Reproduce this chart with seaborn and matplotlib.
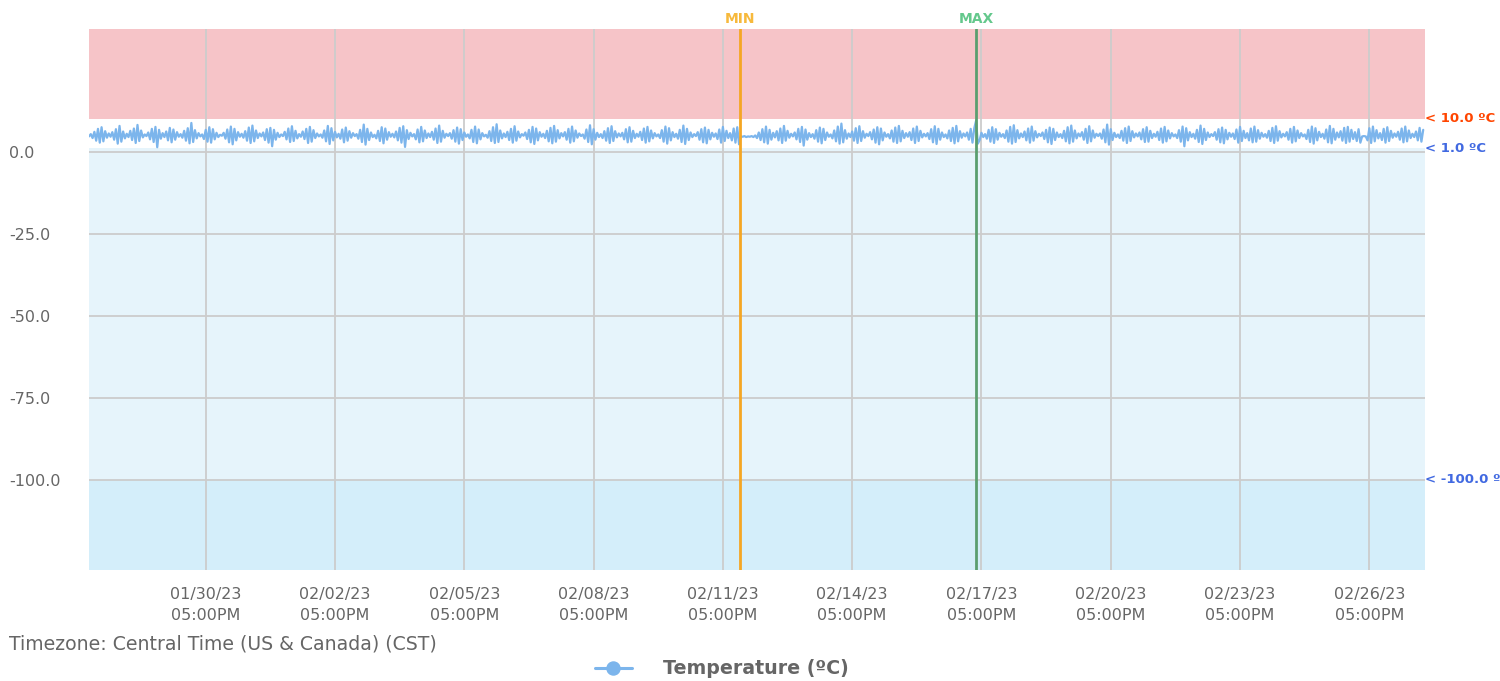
import matplotlib
matplotlib.use("Agg")
import matplotlib.pyplot as plt
import matplotlib.dates as mdates
import matplotlib.transforms as mtrans
from matplotlib.lines import Line2D
import numpy as np
import pandas as pd
import seaborn as sns

# ---------------- data ----------------
START = "2023-01-28 00:00"
END = "2023-02-28 00:00"
MIN_TIME = "2023-02-12 02:30"
MAX_TIME = "2023-02-17 14:00"

# hourly temperature readings (ºC), one row per day
TEMP = [
    4.6,5.3,4.1,6.0,3.3,6.9,2.7,7.4,3.1,6.2,4.2,5.5,4.5,5.9,3.6,6.8,2.4,7.8,3.0,6.1,4.0,5.4,4.4,6.3,
    3.5,7.0,2.6,8.1,3.2,6.4,4.3,5.2,4.7,5.8,3.7,6.9,2.9,7.5,1.3,6.6,3.9,5.6,4.4,6.1,3.4,7.2,2.8,6.7,
    3.6,5.9,4.5,5.3,4.2,6.3,3.3,7.1,2.5,8.7,2.9,6.5,4.0,5.6,4.6,5.2,3.8,6.6,3.0,7.4,2.7,6.8,3.7,5.7,
    4.4,5.1,4.8,5.7,3.9,6.7,2.8,7.6,2.2,6.9,3.4,5.9,4.5,5.4,4.2,6.2,3.3,7.3,2.6,7.9,3.1,6.4,4.1,5.5,
    4.6,5.8,3.5,6.8,2.7,7.2,1.6,6.6,3.6,5.7,4.4,5.2,4.7,6.0,3.7,7.0,2.9,7.7,3.2,6.3,4.0,5.3,4.5,6.1,
    3.8,6.9,2.6,7.5,3.0,6.5,4.1,5.5,4.6,5.2,4.2,6.4,3.1,7.8,2.3,7.1,3.4,6.0,4.3,5.4,3.9,6.7,2.8,7.3,
    3.3,6.2,4.2,5.6,4.7,5.3,3.9,6.6,2.9,8.2,2.1,6.9,3.5,5.8,4.4,5.1,4.0,6.3,3.2,7.4,2.5,7.0,3.6,5.9,
    4.5,5.4,4.3,6.1,3.4,7.2,2.7,7.7,1.4,6.5,3.8,5.7,4.6,5.3,3.7,6.7,2.8,7.5,3.1,6.4,4.1,5.5,4.4,6.0,
    3.6,7.0,2.6,7.9,3.0,6.3,4.2,5.4,4.7,5.6,3.9,6.5,3.0,7.3,2.4,6.8,3.5,5.8,4.5,5.2,4.0,6.6,2.9,7.6,
    2.5,6.7,3.7,5.6,4.6,5.1,4.2,6.2,3.2,7.4,2.6,8.3,2.9,6.4,4.0,5.5,4.4,6.0,3.5,6.9,2.7,7.7,3.3,6.1,
    4.3,5.3,4.8,5.8,3.8,6.6,2.8,7.5,2.3,7.0,3.4,5.9,4.5,5.4,4.1,6.3,3.1,7.2,2.5,7.8,3.0,6.5,4.0,5.6,
    4.6,5.9,3.6,6.9,2.7,7.6,3.1,6.4,4.2,5.5,4.7,5.2,3.9,6.7,2.9,8.0,2.2,6.8,3.6,5.7,4.4,5.3,4.1,6.2,
    3.3,7.1,2.6,7.7,3.2,6.2,4.3,5.5,4.6,5.7,3.7,6.8,2.8,7.4,3.0,6.3,4.1,5.4,4.5,6.0,3.5,7.0,2.7,7.5,
    3.1,6.4,4.0,5.6,4.6,5.2,4.1,6.5,3.0,7.6,2.4,7.1,3.4,5.9,4.4,5.4,3.9,6.6,2.9,7.9,2.3,6.9,3.5,5.8,
    4.4,5.3,4.7,5.9,3.6,6.8,2.8,7.3,2.5,6.6,3.7,5.7,4.5,5.5,3.8,6.7,2.7,7.5,3.2,6.3,4.1,5.6,3.4,7.0,
    2.7,7.4,2.2,4.6,4.5,4.7,4.4,4.6,4.5,4.7,4.4,4.9,4.1,5.8,3.5,6.8,2.8,7.6,2.4,6.6,3.6,5.7,4.3,6.2,
    3.4,7.0,2.6,7.8,3.3,6.3,4.2,5.4,4.6,5.8,3.7,6.9,2.9,7.5,1.8,6.7,3.6,5.6,4.4,5.3,3.9,6.5,3.0,7.3,
    2.5,6.9,3.5,5.8,4.5,5.2,4.0,6.4,3.1,7.6,2.4,8.5,2.8,6.5,3.9,5.5,4.4,6.1,3.3,7.1,2.6,7.7,3.2,6.2,
    4.2,5.4,4.7,5.9,3.7,6.7,2.7,7.4,2.2,7.0,3.4,5.8,4.5,5.3,4.0,6.4,3.0,7.3,2.6,7.8,3.1,6.3,4.1,5.6,
    4.5,5.9,3.5,7.0,2.6,7.6,3.2,6.3,4.3,5.4,4.6,5.6,3.8,6.8,2.8,7.7,2.3,6.9,3.6,5.8,4.4,5.2,4.0,6.4,
    3.2,7.2,2.5,7.8,3.1,6.2,4.2,5.5,4.6,5.8,3.6,6.9,2.7,7.1,9.4,2.4,3.5,5.7,4.4,5.3,3.9,6.6,3.0,7.4,
    2.6,6.8,3.6,5.7,4.5,5.3,4.1,6.4,3.0,7.5,2.4,8.0,2.9,6.5,4.0,5.5,4.4,6.1,3.4,7.0,2.7,7.6,3.3,6.2,
    4.3,5.4,4.7,5.8,3.8,6.6,2.8,7.3,2.3,6.9,3.5,5.8,4.4,5.3,4.1,6.3,3.1,7.4,2.5,7.9,3.0,6.4,4.0,5.5,
    4.6,5.9,3.6,6.9,2.6,7.7,3.1,6.4,4.2,5.4,4.7,5.5,3.9,6.7,2.8,8.2,2.1,6.8,3.5,5.7,4.4,5.2,4.1,6.3,
    3.3,7.1,2.6,7.6,3.2,6.2,4.3,5.5,4.6,5.8,3.7,6.8,2.9,7.4,3.0,6.3,4.1,5.4,4.5,6.0,3.5,7.0,2.7,7.5,
    3.1,6.4,4.0,5.6,4.6,5.2,4.1,6.5,3.0,7.6,1.6,7.1,3.4,5.9,4.4,5.4,3.9,6.6,2.9,7.9,2.3,6.9,3.5,5.8,
    4.4,5.3,4.7,5.9,3.6,6.8,2.8,7.3,2.5,6.6,3.7,5.7,4.5,5.5,3.8,6.7,2.7,7.5,3.2,6.3,4.1,5.6,3.4,7.0,
    2.8,7.6,3.0,6.5,3.9,5.7,4.5,5.3,4.2,6.3,3.2,7.2,2.6,7.7,3.3,6.2,4.3,5.4,4.6,5.9,3.6,6.9,2.7,7.5,
    3.1,6.4,4.1,5.6,4.6,5.2,3.8,6.6,2.9,7.6,2.4,7.1,3.4,6.0,4.4,5.4,3.9,6.7,2.8,7.8,2.5,6.9,3.6,5.8,
    4.3,6.2,3.3,7.2,2.6,7.5,3.0,6.6,3.8,5.9,3.2,6.8,2.7,4.6,4.7,4.6,3.4,7.1,2.6,7.6,3.1,6.5,4.0,5.6,
    3.5,6.9,2.7,7.4,3.2,6.3,4.2,5.5,4.5,6.0,3.6,7.0,2.8,7.6,3.1,6.4,4.1,5.4,4.4,6.1,3.4,7.2,3.0,6.6,
]

Y_TICKS = [0.0, -25.0, -50.0, -75.0, -100.0]
Y_LIMITS = [-127.4, 37.3]
X_TICK_START = "2023-01-30 17:00"
X_TICK_COUNT = 10
HIGH_LIMIT = 10.0
LOW_LIMIT = 1.0
FLOOR_LIMIT = -100.0
SERIES_NAME = "Temperature (ºC)"
TZ_TEXT = "Timezone: Central Time (US & Canada) (CST)"

# ---------------- style ----------------
sns.set_style("white")
plt.rcParams["font.family"] = ["DejaVu Sans"]
GREY = "#666666"
LINE_BLUE = "#7cb5ec"

df = pd.DataFrame({
    "time": pd.date_range(START, periods=len(TEMP), freq="h"),
    "temp": TEMP,
})

W, H = 1500, 681
fig = plt.figure(figsize=(W / 100, H / 100), dpi=100)
ax = fig.add_axes([89 / W, 1 - 570 / H, (1425 - 89) / W, (570 - 29) / H])

# bands
ax.axhspan(HIGH_LIMIT, Y_LIMITS[1], color="#f6c4c8", zorder=0, lw=0)
ax.axhspan(FLOOR_LIMIT, LOW_LIMIT, color="#e6f4fb", zorder=0, lw=0)
ax.axhspan(Y_LIMITS[0], FLOOR_LIMIT, color="#d4eefa", zorder=0, lw=0)

sns.lineplot(data=df, x="time", y="temp", ax=ax, color=LINE_BLUE,
             lw=1.6, legend=False, zorder=2)

x0 = mdates.date2num(pd.Timestamp(START).to_pydatetime())
x1 = mdates.date2num(pd.Timestamp(END).to_pydatetime())
ax.set_xlim(x0, x1)
ax.set_ylim(*Y_LIMITS)

xt = pd.date_range(X_TICK_START, periods=X_TICK_COUNT, freq="3D")
ax.set_xticks(mdates.date2num(xt.to_pydatetime()))
ax.xaxis.set_major_formatter(mdates.DateFormatter("%m/%d/%y\n%I:%M%p"))
ax.set_yticks(Y_TICKS)
ax.set_yticklabels([f"{v:.1f}" for v in Y_TICKS])

ax.set_axisbelow(True)
ax.grid(True, axis="both", color="#cccccc", lw=1.3)
for s in ax.spines.values():
    s.set_visible(False)
ax.tick_params(axis="both", length=0, colors=GREY, labelsize=11.5)
ax.tick_params(axis="x", pad=12)
ax.tick_params(axis="y", pad=57.6)
for lab in ax.get_yticklabels():
    lab.set_horizontalalignment("left")
for lab in ax.get_xticklabels():
    lab.set_linespacing(1.5)
ax.set_xlabel("")
ax.set_ylabel("")

# MIN / MAX markers
for t, lc, tc, name in [(MIN_TIME, "#f5a623", "#f7b93c", "MIN"),
                        (MAX_TIME, "#5a9e6f", "#64c88c", "MAX")]:
    xv = mdates.date2num(pd.Timestamp(t).to_pydatetime())
    ax.axvline(xv, color=lc, lw=2, zorder=3)
    ax.text(xv, 1.0 + 10 / (570 - 29), name, transform=ax.get_xaxis_transform(),
            ha="center", va="center", color=tc, fontsize=10, fontweight="bold",
            clip_on=False)

# threshold labels on the right (the last one runs past the edge, as in the source)
tr = mtrans.blended_transform_factory(ax.transAxes, ax.transData)
for v, c in [(HIGH_LIMIT, "#ff4500"), (LOW_LIMIT, "#4169e1"), (FLOOR_LIMIT, "#4169e1")]:
    ax.text(1.0, v, f"< {v:.1f} ºC", transform=tr, ha="left", va="center",
            color=c, fontsize=9.5, fontweight="bold", clip_on=False)

fig.text(9 / W, 1 - 644 / H, TZ_TEXT, ha="left", va="center", color=GREY,
         fontsize=13.6)

handle = Line2D([0], [0], color=LINE_BLUE, lw=2.2, marker="o", markersize=9.4,
                markerfacecolor=LINE_BLUE, markeredgecolor=LINE_BLUE)
leg = fig.legend([handle], [SERIES_NAME], loc="center",
                 bbox_to_anchor=(722 / W, 1 - 669 / H), frameon=False,
                 handlelength=1.9, handletextpad=1.65,
                 prop={"size": 13.7, "weight": "bold"})
for txt in leg.get_texts():
    txt.set_color(GREY)

fig.savefig("out.png", dpi=100)
